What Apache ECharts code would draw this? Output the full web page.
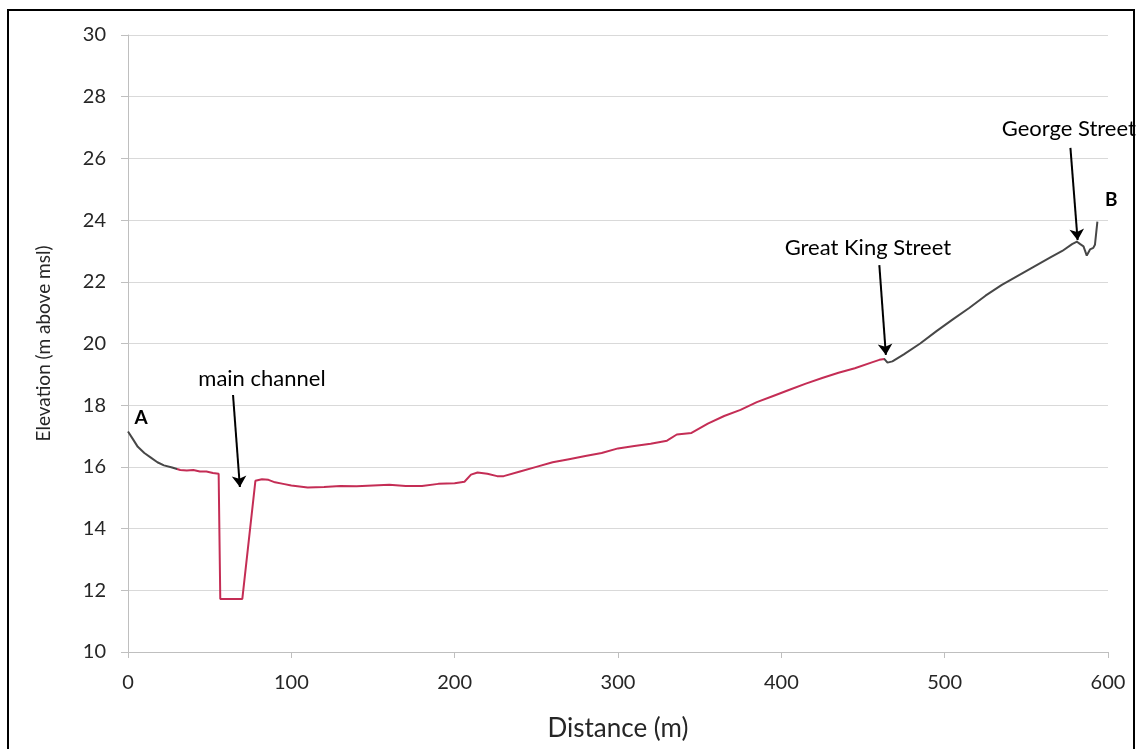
<!DOCTYPE html>
<html>
<head>
<meta charset="utf-8">
<script src="https://cdn.jsdelivr.net/npm/echarts@6/dist/echarts.min.js"></script>
<style>
  html, body { margin: 0; padding: 0; background: #fff; }
  #chart { width: 1137px; height: 749px; }
</style>
</head>
<body>
<div id="chart"></div>
<script>
// distance along the profile (m)
var distance = [0, 3, 6, 10, 14, 18, 22, 27, 32, 36, 40, 44, 48, 52, 55.5,
  56.5, 62, 70, 78, 82, 86, 90, 95, 100, 110, 120, 130, 140, 150, 160, 170, 180,
  190, 200, 206, 210, 214, 220, 226, 230, 240, 250, 260, 270, 280, 290, 300, 310,
  320, 330, 336, 345, 355, 365, 375, 385, 395, 405, 415, 425, 435, 445, 455, 460,
  463, 465, 468, 475, 485, 495, 505, 515, 525, 535, 545, 555, 565, 572, 578, 581,
  583, 585, 587, 589, 591, 592, 593.5];
// elevation (m above msl)
var elevation = [17.15, 16.9, 16.65, 16.45, 16.3, 16.15, 16.05, 15.98, 15.9, 15.88, 15.9, 15.85, 15.85, 15.8, 15.78,
  11.72, 11.72, 11.72, 15.55, 15.6, 15.58, 15.5, 15.45, 15.4, 15.33, 15.35, 15.38, 15.37, 15.4, 15.42, 15.38, 15.38,
  15.45, 15.47, 15.52, 15.75, 15.82, 15.78, 15.7, 15.7, 15.85, 16.0, 16.15, 16.25, 16.35, 16.45, 16.6, 16.68,
  16.75, 16.85, 17.05, 17.1, 17.4, 17.65, 17.85, 18.1, 18.3, 18.5, 18.7, 18.88, 19.05, 19.2, 19.38, 19.47,
  19.5, 19.38, 19.42, 19.65, 20.0, 20.4, 20.78, 21.15, 21.55, 21.9, 22.2, 22.5, 22.8, 23.0, 23.22, 23.3,
  23.22, 23.15, 22.85, 23.05, 23.1, 23.2, 23.95];
var xTicks = [0, 100, 200, 300, 400, 500, 600];
var yTicks = [10, 12, 14, 16, 18, 20, 22, 24, 26, 28, 30];

// annotation labels and arrows (data units)
var arrowTails = [[64.3, 18.33], [460, 22.54], [577, 26.34]];
var arrowTips = [[68.5, 15.35], [464, 19.63], [581.4, 23.35]];
var noteText = ['main channel', 'Great King Street', 'George Street', 'A', 'B'];
var notePos = [[82, 18.85], [453, 23.1], [576, 26.95], [8, 17.6], [602, 24.65]];

var font = 'Lato, "Open Sans", sans-serif';
var crimson = '#c42d55';
var grey = '#474747';

var myChart = echarts.init(document.getElementById('chart'));
var points = distance.map(function (d, i) { return [d, elevation[i]]; });

var option = {
  animation: false,
  backgroundColor: '#fff',
  grid: { left: 128, right: 29, top: 35, bottom: 97 },
  xAxis: {
    type: 'value', min: 0, max: 600, interval: 100,
    name: 'Distance (m)', nameLocation: 'middle', nameGap: 64,
    nameTextStyle: { fontFamily: font, fontSize: 26, color: '#262626' },
    axisLine: { show: true, lineStyle: { color: '#bfbfbf', width: 1 } },
    axisTick: { show: true, length: 6, lineStyle: { color: '#bfbfbf' } },
    axisLabel: { margin: 21, fontFamily: font, fontSize: 20, color: '#262626' },
    splitLine: { show: false }
  },
  yAxis: {
    type: 'value', min: 10, max: 30, interval: 2,
    name: 'Elevation (m above msl)', nameLocation: 'middle', nameGap: 75,
    nameTextStyle: { fontFamily: font, fontSize: 19, color: '#262626' },
    axisLine: { show: true, lineStyle: { color: '#bfbfbf', width: 1 } },
    axisTick: { show: true, length: 7, lineStyle: { color: '#bfbfbf' } },
    axisLabel: { margin: 22, fontFamily: font, fontSize: 20, color: '#262626' },
    splitLine: { show: true, lineStyle: { color: '#d9d9d9', width: 1 } }
  },
  visualMap: {
    show: false, type: 'piecewise', dimension: 0, seriesIndex: 0,
    pieces: [
      { lt: 30, color: grey },
      { gte: 30, lt: 463, color: crimson },
      { gte: 463, color: grey }
    ]
  },
  series: [{
    type: 'line',
    data: points,
    showSymbol: false,
    lineStyle: { width: 2 },
    markLine: {
      silent: true,
      symbol: ['none', 'arrow'],
      symbolSize: 11,
      label: { show: false },
      lineStyle: { color: '#000', width: 2, type: 'solid' },
      data: arrowTails.map(function (t, i) {
        return [{ coord: t }, { coord: arrowTips[i] }];
      })
    }
  }]
};
myChart.setOption(option);

myChart.setOption({
  graphic: noteText.map(function (t, i) {
    var p = myChart.convertToPixel({ gridIndex: 0 }, notePos[i]);
    var bold = (t === 'A' || t === 'B');
    return {
      type: 'text', x: p[0], y: p[1],
      style: {
        text: t, fill: '#000', font: (bold ? 'bold 19px ' : '22px ') + font,
        align: 'center', verticalAlign: 'middle'
      }
    };
  }).concat([{
    type: 'rect',
    shape: { x: 8, y: 10, width: 1126, height: 760 },
    style: { fill: 'none', stroke: '#000', lineWidth: 2 }
  }])
});
myChart.resize();
</script>
</body>
</html>
